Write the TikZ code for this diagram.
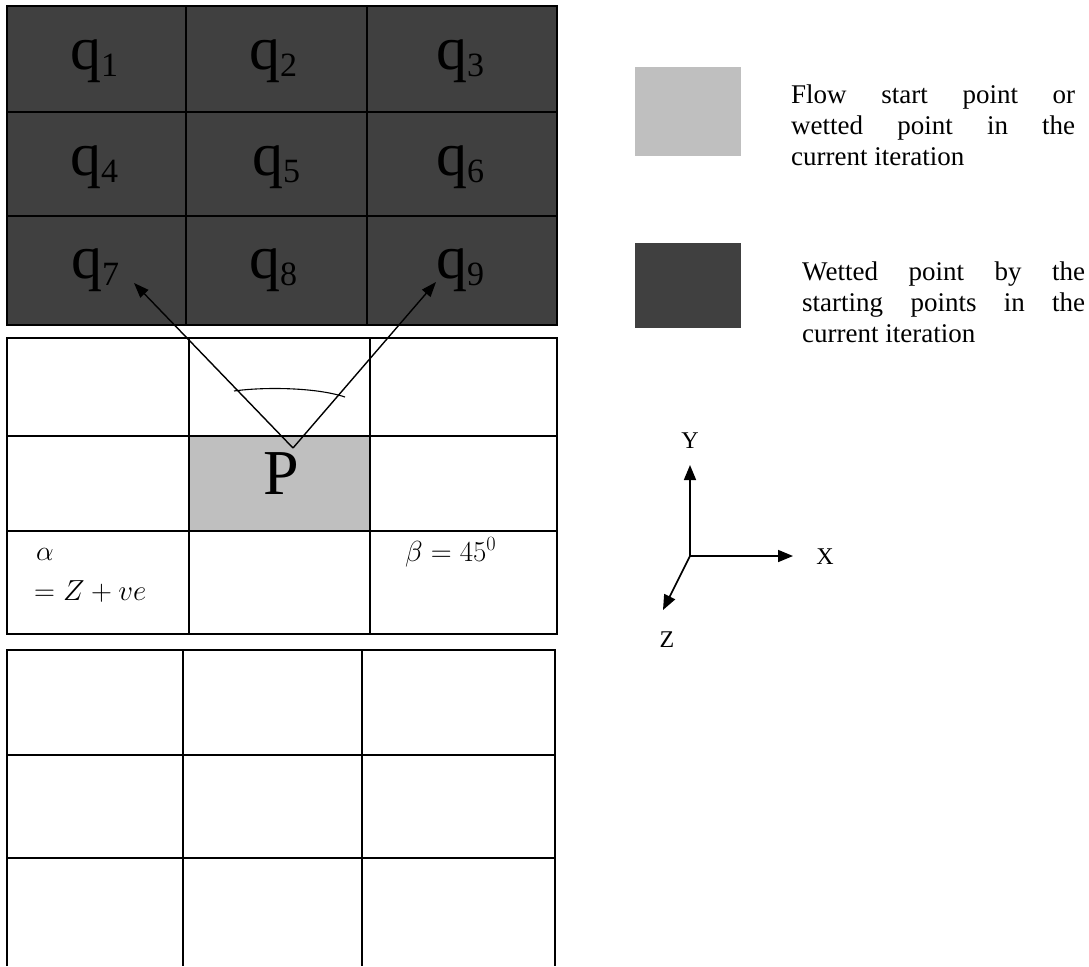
\RequirePackage{fix-cm}
\documentclass[tikz,border=0pt]{standalone}
\usepackage{fontspec}
\setmainfont{Liberation Serif}
\usetikzlibrary{arrows.meta}
\definecolor{darkcell}{RGB}{64,64,64}
\definecolor{lightcell}{RGB}{191,191,191}
\newcommand{\qlab}[1]{{\fontsize{62}{70}\selectfont q}{\fontsize{34}{40}\selectfont\raisebox{-7pt}{#1}}}
\tikzset{
  gridline/.style={line width=1.5pt, black},
  qtext/.style={anchor=base west, inner sep=0pt, text=black},
  arr/.style={line width=1.4pt, -{Triangle[length=15pt,width=11pt]}},
  axarr/.style={line width=1.6pt, -{Triangle[length=15pt,width=12pt]}},
  legtext/.style={anchor=north west, inner sep=0pt, align=left, font=\fontsize{27}{31}\selectfont},
  axlabel/.style={inner sep=0pt, font=\fontsize{24}{28}\selectfont},
  mathlab/.style={anchor=base west, inner sep=0pt, font=\fontsize{29}{34}\selectfont},
}
\begin{document}
\begin{tikzpicture}[x=1pt,y=-1pt]
\useasboundingbox (0,0) rectangle (1089,966);
% ---------- top grid (dark) ----------
\fill[darkcell] (7,6) rectangle (557,325);
\draw[gridline] (7,6) rectangle (557,325);
\draw[gridline] (186,6) -- (186,325) (367,6) -- (367,325);
\draw[gridline] (7,112) -- (557,112) (7,216) -- (557,216);
\node[qtext] (q1) at (70,70)  {\qlab{1}};
\node[qtext] (q2) at (249,70) {\qlab{2}};
\node[qtext] (q3) at (436,70) {\qlab{3}};
\node[qtext] (q4) at (70,175) {\qlab{4}};
\node[qtext] (q5) at (252,175) {\qlab{5}};
\node[qtext] (q6) at (436,175) {\qlab{6}};
\node[qtext] (q7) at (71,278) {\qlab{7}};
\node[qtext] (q8) at (249,278) {\qlab{8}};
\node[qtext] (q9) at (436,278) {\qlab{9}};
% ---------- middle grid ----------
\fill[lightcell] (189,436) rectangle (370,531);
\draw[gridline] (7,338) rectangle (557,634);
\draw[gridline] (189,338) -- (189,634) (370,338) -- (370,634);
\draw[gridline] (7,436) -- (557,436) (7,531) -- (557,531);
\node[inner sep=0pt, font=\fontsize{64}{70}\selectfont] (P) at (281,474) {P};
\coordinate (V) at (293,448);
\coordinate (t7) at (134,283);
\coordinate (t9) at (436,282);
\draw[arr] (V) -- (t7);
\draw[arr] (V) -- (t9);
\draw[line width=1.1pt] (234,391) .. controls (262,387) and (315,387) .. (345,397);
\node[mathlab, font=\fontsize{28}{32}\selectfont] (alpha) at (36,560) {$\alpha$};
\node[mathlab] (alpha2) at (34,600) {$=Z+ve$};
\node[mathlab] (beta) at (405,561) {$\beta=45^0$};
% ---------- bottom grid ----------
\draw[gridline] (7,966) -- (7,650) -- (555,650) -- (555,966);
\draw[gridline] (183,650) -- (183,966) (362,650) -- (362,966);
\draw[gridline] (7,755) -- (555,755) (7,858) -- (555,858);
% ---------- legend ----------
\node[fill=lightcell, minimum width=106pt, minimum height=89pt, inner sep=0pt] (legL) at (688,111.5) {};
\node[fill=darkcell, minimum width=106pt, minimum height=85pt, inner sep=0pt] (legD) at (688,285.5) {};
\node[legtext] (legLt) at (791,85) {\makebox[284pt][s]{Flow start point or}\\\makebox[284pt][s]{wetted point in the}\\current iteration};
\node[legtext] (legDt) at (802,262) {\makebox[283pt][s]{Wetted point by the}\\\makebox[283pt][s]{starting points in the}\\current iteration};
% ---------- axes ----------
\coordinate (O) at (690,556);
\coordinate (Ytip) at (690,465);
\coordinate (Xtip) at (793,556);
\coordinate (Ztip) at (663,610);
\draw[axarr] (O) -- (Ytip);
\draw[axarr] (O) -- (Xtip);
\draw[axarr] (O) -- (Ztip);
\node[axlabel] (Y) at (690,441) {Y};
\node[axlabel] (X) at (825,557) {X};
\node[axlabel] (Z) at (667,640) {Z};
\end{tikzpicture}
\end{document}
